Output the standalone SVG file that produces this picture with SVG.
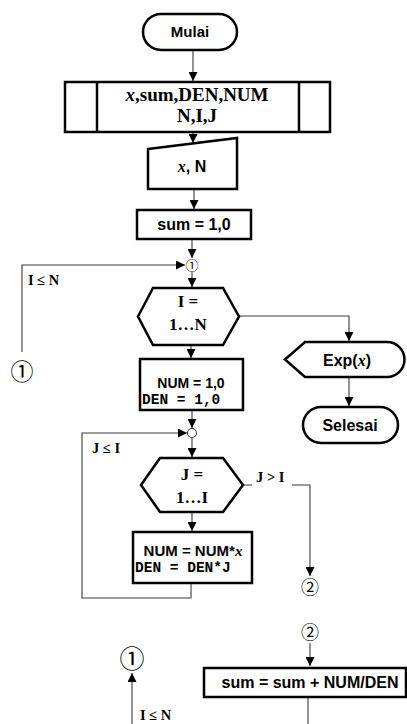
<svg xmlns="http://www.w3.org/2000/svg" width="407" height="724" viewBox="0 0 407 724">
  <style>
    .shape { fill: #ffffff; stroke: #000000; stroke-width: 2.5; stroke-linejoin: miter; }
    .conn { fill: none; stroke: #3a3a3a; stroke-width: 1.1; }
    .sans { font-family: "Liberation Sans", Arial, sans-serif; font-weight: bold; fill: #000; }
    .serif { font-family: "Liberation Serif", "Times New Roman", serif; font-weight: bold; fill: #000; }
    .mono { font-family: "Liberation Mono", "Courier New", monospace; font-weight: bold; fill: #000; }
    .var { font-family: "Liberation Serif", "Times New Roman", serif; font-weight: bold; font-style: italic; }
    .circ { font-family: "Noto Sans CJK JP", "DejaVu Sans", sans-serif; fill: #000; }
    .mid { text-anchor: middle; }
  </style>
  <defs>
    <marker id="arrow" viewBox="0 0 10 10" refX="10" refY="5" markerWidth="9" markerHeight="9" markerUnits="userSpaceOnUse" orient="auto">
      <path d="M0,0 L10,5 L0,10 Z" fill="#000"/>
    </marker>
  </defs>

  <rect width="407" height="724" fill="#ffffff"/>

  <!-- connectors -->
  <g id="connectors">
    <path class="conn" d="M193,50 V81" marker-end="url(#arrow)"/>
    <path class="conn" d="M193,133 V143" marker-end="url(#arrow)"/>
    <path class="conn" d="M194,189 V209" marker-end="url(#arrow)"/>
    <path class="conn" d="M192,239 V258" marker-end="url(#arrow)"/>
    <path class="conn" d="M22,352 V265 H185" marker-end="url(#arrow)"/>
    <path class="conn" d="M192,272 V287" marker-end="url(#arrow)"/>
    <path class="conn" d="M191,346 V358" marker-end="url(#arrow)"/>
    <path class="conn" d="M239,316 H349 V341" marker-end="url(#arrow)"/>
    <path class="conn" d="M349,377 V406" marker-end="url(#arrow)"/>
    <path class="conn" d="M192,411 V428" marker-end="url(#arrow)"/>
    <path class="conn" d="M191,584 V598 H82 V433 H187" marker-end="url(#arrow)"/>
    <path class="conn" d="M192,438 V457" marker-end="url(#arrow)"/>
    <path class="conn" d="M192,513 V531" marker-end="url(#arrow)"/>
    <path class="conn" d="M243,485 H252 M292,485 H310 V576" marker-end="url(#arrow)"/>
    <path class="conn" d="M310,643 V666" marker-end="url(#arrow)"/>
    <path class="conn" d="M308,697 V724"/>
    <path class="conn" d="M132,724 V673" marker-end="url(#arrow)"/>
    <circle cx="192" cy="433" r="4.5" fill="#ffffff" stroke="#3a3a3a" stroke-width="1.1"/>
  </g>

  <!-- condition labels -->
  <g id="labels">
    <text class="serif" x="28" y="285" font-size="14.5">I ≤ N</text>
    <text class="serif" x="92" y="453" font-size="14.5">J ≤ I</text>
    <text class="serif" x="256" y="482" font-size="14.5">J &gt; I</text>
    <text class="serif" x="140" y="720" font-size="14.5">I ≤ N</text>
  </g>

  <!-- connector markers -->
  <g id="con-1-top">
    <text class="circ mid" x="192" y="270" font-size="13">①</text>
  </g>
  <g id="con-1-left">
    <text class="circ mid" x="22" y="380" font-size="23">①</text>
  </g>
  <g id="con-2-out">
    <text class="circ mid" x="310" y="594" font-size="18">②</text>
  </g>
  <g id="con-2-in">
    <text class="circ mid" x="310" y="639" font-size="18">②</text>
  </g>
  <g id="con-1-bottom">
    <text class="circ mid" x="132" y="668" font-size="25">①</text>
  </g>

  <g id="start">
    <rect class="shape" x="143" y="14" width="94" height="36" rx="18" ry="18"/>
    <text class="sans mid" x="190" y="37" font-size="15">Mulai</text>
  </g>

  <g id="declare">
    <rect class="shape" x="65" y="82" width="265" height="50"/>
    <line x1="97" y1="82" x2="97" y2="132" stroke="#000" stroke-width="2.5"/>
    <line x1="299" y1="82" x2="299" y2="132" stroke="#000" stroke-width="2.5"/>
    <text class="serif mid" x="197" y="101" font-size="19"><tspan class="var">x</tspan>,sum,DEN,NUM</text>
    <text class="serif mid" x="197" y="122" font-size="19">N,I,J</text>
  </g>

  <g id="input">
    <path class="shape" d="M148,149 L237,138 L237,189 L148,189 Z"/>
    <text class="sans mid" x="192" y="172" font-size="16"><tspan class="var">x</tspan>, N</text>
  </g>

  <g id="init-sum">
    <rect class="shape" x="137" y="210" width="114" height="29"/>
    <text class="sans mid" x="194" y="230" font-size="16">sum = 1,0</text>
  </g>

  <g id="loop-i">
    <path class="shape" d="M138,316.5 L153,288 L223,288 L239,316.5 L223,345 L153,345 Z"/>
    <text class="serif mid" x="188" y="307" font-size="17">I =</text>
    <text class="serif mid" x="188" y="330" font-size="17">1…N</text>
  </g>

  <g id="init-num">
    <rect class="shape" x="140" y="359" width="103" height="51"/>
    <text class="sans mid" x="191" y="388" font-size="14">NUM = 1,0</text>
    <text class="mono" x="142" y="404" font-size="14.5">DEN = 1,0</text>
  </g>

  <g id="output">
    <path class="shape" d="M285,359.5 L305,342 H387 A17.5,17.5 0 0 1 387,377 H305 Z"/>
    <text class="sans mid" x="347" y="366" font-size="16">Exp(<tspan class="var">x</tspan>)</text>
  </g>

  <g id="end">
    <rect class="shape" x="303" y="407" width="95" height="36" rx="18" ry="18"/>
    <text class="sans mid" x="350" y="431" font-size="16">Selesai</text>
  </g>

  <g id="loop-j">
    <path class="shape" d="M141,485 L160,458 L223,458 L243,485 L223,512 L160,512 Z"/>
    <text class="serif mid" x="192" y="480" font-size="17">J =</text>
    <text class="serif mid" x="192" y="503" font-size="17">1…I</text>
  </g>

  <g id="update">
    <rect class="shape" x="133" y="532" width="119" height="51"/>
    <text class="sans mid" x="193" y="556" font-size="15">NUM = NUM*<tspan class="var">x</tspan></text>
    <text class="mono" x="135" y="572" font-size="14.5">DEN = DEN*J</text>
  </g>

  <g id="accumulate">
    <rect class="shape" x="204" y="668" width="202" height="29"/>
    <text class="sans mid" x="310" y="688" font-size="16">sum = sum + NUM/DEN</text>
  </g>
</svg>
